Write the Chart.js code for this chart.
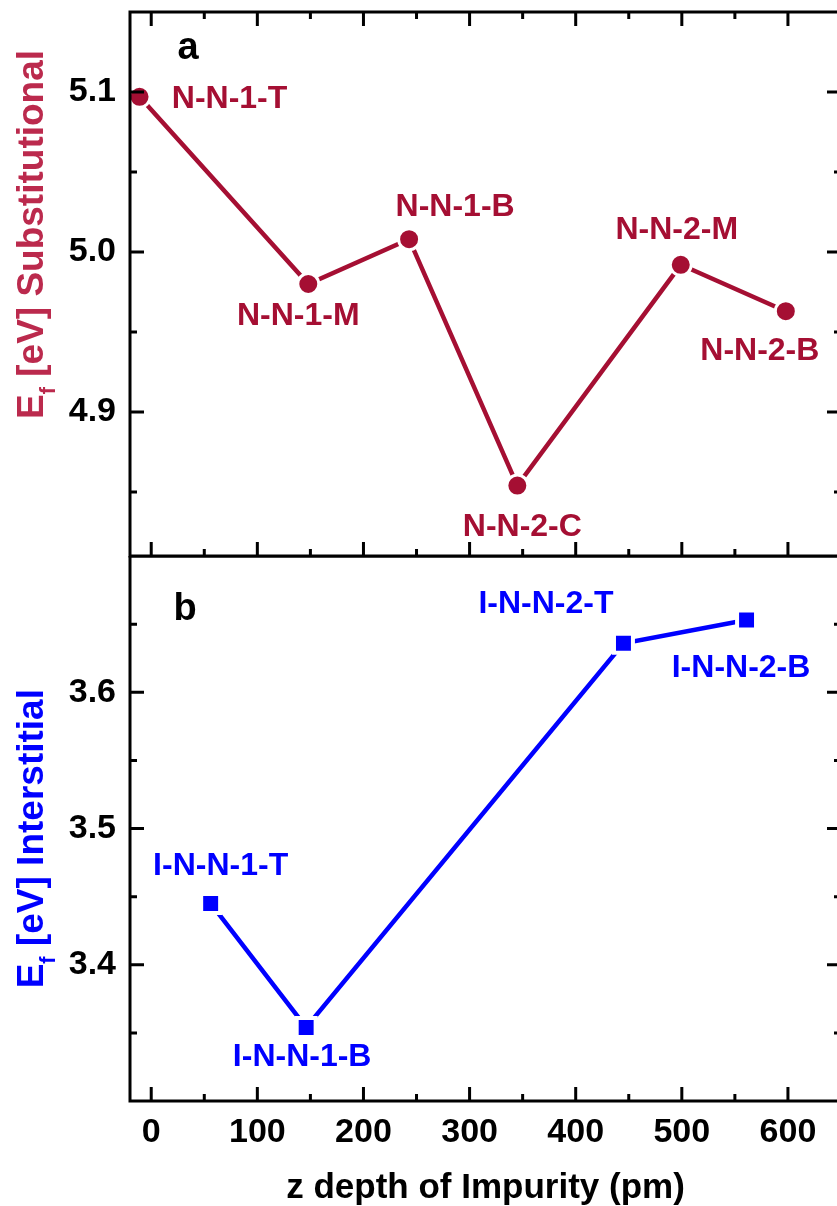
<!DOCTYPE html>
<html>
<head>
<meta charset="utf-8">
<script src="https://cdn.jsdelivr.net/npm/chart.js@4.4.1/dist/chart.umd.min.js"></script>
<style>
  html, body { margin: 0; padding: 0; background: #fff; overflow: hidden; width: 837px; height: 1206px; }
  #wrap { position: relative; width: 837px; height: 1206px; overflow: hidden; }
  #c1 { position: absolute; left: 0; top: 0; width: 850px; height: 560px; }
  #c2 { position: absolute; left: 0; top: 556px; width: 850px; height: 650px; }
</style>
</head>
<body>
<div id="wrap">
  <canvas id="c1" width="850" height="560"></canvas>
  <canvas id="c2" width="850" height="650"></canvas>
</div>
<script>
// ---------------- data ----------------
const xTicks = [0, 100, 200, 300, 400, 500, 600];
const xMinorTicks = [50, 150, 250, 350, 450, 550];

const yTicksA = [4.9, 5.0, 5.1];
const yMinorTicksA = [4.85, 4.95, 5.05];
const yTicksB = [3.4, 3.5, 3.6];
const yMinorTicksB = [3.35, 3.45, 3.55, 3.65];

const subLabels = ['N-N-1-T', 'N-N-1-M', 'N-N-1-B', 'N-N-2-C', 'N-N-2-M', 'N-N-2-B'];
const subDepth  = [-11, 148, 243, 345, 499, 598];
const subEnergy = [5.097, 4.980, 5.008, 4.854, 4.992, 4.963];

const intLabels = ['I-N-N-1-T', 'I-N-N-1-B', 'I-N-N-2-T', 'I-N-N-2-B'];
const intDepth  = [56, 146, 445, 561];
const intEnergy = [3.445, 3.354, 3.636, 3.653];

const xTitle = 'z depth of Impurity (pm)';
const yTitleA = ['E', 'f', ' [eV] Substitutional'];
const yTitleB = ['E', 'f', ' [eV] Interstitial'];

// ---------------- style ----------------
const FONT = "'Liberation Sans', Arial, Helvetica, sans-serif";
const RED = '#a50f33';
const RED_TITLE = '#bb2a4d';
const BLUE = '#0000ff';
const labelOffsetsA = [[90, 2], [-10, 32], [46, -32], [5, 42], [-4, -35], [-26, 40]];
const labelOffsetsB = [[10, -37], [-4, 30], [-77.5, -39], [-5.5, 48]];

function framePlugin(o) {
  return {
    id: 'frame',
    afterDatasetsDraw(chart) {
      const { ctx, chartArea: ca } = chart;
      const x = chart.scales.x, y = chart.scales.y;
      const MAJ = 14, MIN = 7;
      ctx.save();
      ctx.strokeStyle = '#000';
      ctx.lineWidth = 3;
      ctx.lineCap = 'butt';
      ctx.beginPath();
      const xt = (vals, len) => vals.forEach(v => {
        const px = x.getPixelForValue(v);
        if (o.topTicks) { ctx.moveTo(px, ca.top); ctx.lineTo(px, ca.top + len); }
        ctx.moveTo(px, ca.bottom); ctx.lineTo(px, ca.bottom - len);
      });
      const yt = (vals, len) => vals.forEach(v => {
        const py = y.getPixelForValue(v);
        ctx.moveTo(ca.left, py); ctx.lineTo(ca.left + len, py);
        ctx.moveTo(ca.right, py); ctx.lineTo(ca.right - len, py);
      });
      xt(xTicks, MAJ); xt(xMinorTicks, MIN);
      yt(o.yMaj, MAJ); yt(o.yMin, MIN);
      ctx.stroke();
      ctx.strokeRect(ca.left, ca.top, ca.right - ca.left, ca.bottom - ca.top);
      ctx.restore();
    }
  };
}

function textPlugin(o) {
  return {
    id: 'texts',
    afterDraw(chart) {
      const { ctx, chartArea: ca } = chart;
      const x = chart.scales.x, y = chart.scales.y;
      ctx.save();
      // point labels
      ctx.font = 'bold 32px ' + FONT;
      ctx.fillStyle = o.color;
      ctx.textAlign = 'center';
      ctx.textBaseline = 'middle';
      o.labels.forEach((t, i) => {
        const px = x.getPixelForValue(o.xs[i]) + o.offsets[i][0];
        const py = y.getPixelForValue(o.ys[i]) + o.offsets[i][1];
        ctx.fillText(t, px, py);
      });
      // panel letter
      ctx.fillStyle = '#000';
      ctx.textAlign = 'left';
      ctx.textBaseline = 'alphabetic';
      ctx.font = 'bold 38px ' + FONT;
      ctx.fillText(o.letter, ca.left + o.letterPos[0], ca.top + o.letterPos[1]);
      // y title (rotated, with subscript)
      ctx.save();
      ctx.translate(o.yTitleX, o.yTitleY);
      ctx.rotate(-Math.PI / 2);
      ctx.fillStyle = o.titleColor;
      const big = 'bold 37px ' + FONT, small = 'bold 22px ' + FONT;
      ctx.font = big; const w1 = ctx.measureText(o.yTitle[0]).width;
      ctx.font = small; const w2 = ctx.measureText(o.yTitle[1]).width;
      ctx.font = big; const w3 = ctx.measureText(o.yTitle[2]).width;
      let sx = -(w1 + w2 + w3) / 2;
      ctx.font = big; ctx.fillText(o.yTitle[0], sx, 0); sx += w1;
      ctx.font = small; ctx.fillText(o.yTitle[1], sx, 12.5); sx += w2;
      ctx.font = big; ctx.fillText(o.yTitle[2], sx, 0);
      ctx.restore();
      // x title
      if (o.xTitle) {
        ctx.font = 'bold 35px ' + FONT;
        ctx.fillStyle = '#000';
        ctx.textAlign = 'center';
        ctx.fillText(o.xTitle, (ca.left + ca.right) / 2, o.xTitleY);
      }
      ctx.restore();
    }
  };
}

function makeChart(canvas, cfg) {
  const pts = cfg.xs.map((v, i) => ({ x: v, y: cfg.ys[i] }));
  return new Chart(canvas, {
    type: 'line',
    data: {
      datasets: [{
        data: pts,
        borderColor: cfg.color,
        borderWidth: 4.5,
        backgroundColor: cfg.color,
        pointBackgroundColor: cfg.color,
        pointBorderColor: '#ffffff',
        pointBorderWidth: cfg.pointBorder,
        pointStyle: cfg.pointStyle,
        pointRadius: cfg.pointRadius,
        tension: 0,
        clip: false
      }]
    },
    options: {
      responsive: false,
      maintainAspectRatio: false,
      animation: false,
      devicePixelRatio: 1,
      events: [],
      layout: { padding: cfg.padding, autoPadding: false },
      plugins: { legend: { display: false }, tooltip: { enabled: false }, title: { display: false } },
      scales: {
        x: {
          type: 'linear', min: -20, max: 650,
          display: cfg.showX,
          afterBuildTicks: s => { s.ticks = xTicks.map(v => ({ value: v })); },
          afterFit: s => {
            if (cfg.showX) s.height = cfg.xHeight;
            s.paddingLeft = 0; s.paddingRight = 0; s.paddingTop = 0; s.paddingBottom = 0;
          },
          grid: { display: false, drawTicks: false },
          border: { display: false },
          ticks: { color: '#000', font: { family: FONT, size: 34, weight: 'bold' }, padding: 11, maxRotation: 0, callback: v => String(v) }
        },
        y: {
          type: 'linear', min: cfg.ymin, max: cfg.ymax,
          afterBuildTicks: s => { s.ticks = cfg.yMaj.map(v => ({ value: v })); },
          afterFit: s => {
            s.width = 130;
            s.paddingLeft = 0; s.paddingRight = 0; s.paddingTop = 0; s.paddingBottom = 0;
          },
          grid: { display: false, drawTicks: false },
          border: { display: false },
          ticks: { color: '#000', font: { family: FONT, size: 34, weight: 'bold' }, padding: 14, callback: v => Number(v).toFixed(1) }
        }
      }
    },
    plugins: [framePlugin({ topTicks: cfg.topTicks, yMaj: cfg.yMaj, yMin: cfg.yMin }), textPlugin(cfg)]
  });
}

makeChart(document.getElementById('c1'), {
  xs: subDepth, ys: subEnergy, labels: subLabels, offsets: labelOffsetsA,
  color: RED, titleColor: RED_TITLE, pointStyle: 'circle', pointRadius: 10.5, pointBorder: 3,
  ymin: 4.81, ymax: 5.15, yMaj: yTicksA, yMin: yMinorTicksA,
  padding: { top: 12, right: 9, bottom: 4, left: 0 },
  showX: false, topTicks: true,
  letter: 'a', letterPos: [47.5, 47],
  yTitle: yTitleA, yTitleX: 42.5, yTitleY: 234.5
});

makeChart(document.getElementById('c2'), {
  xs: intDepth, ys: intEnergy, labels: intLabels, offsets: labelOffsetsB,
  color: BLUE, titleColor: BLUE, pointStyle: 'rect', pointRadius: 13.4, pointBorder: 4,
  ymin: 3.30, ymax: 3.70, yMaj: yTicksB, yMin: yMinorTicksB,
  padding: { top: 0, right: 9, bottom: 0, left: 0 },
  showX: true, xHeight: 105, topTicks: false,
  letter: 'b', letterPos: [43.5, 64],
  yTitle: yTitleB, yTitleX: 42.5, yTitleY: 838.7 - 556,
  xTitle: xTitle, xTitleY: 1198 - 556
});
</script>
</body>
</html>
